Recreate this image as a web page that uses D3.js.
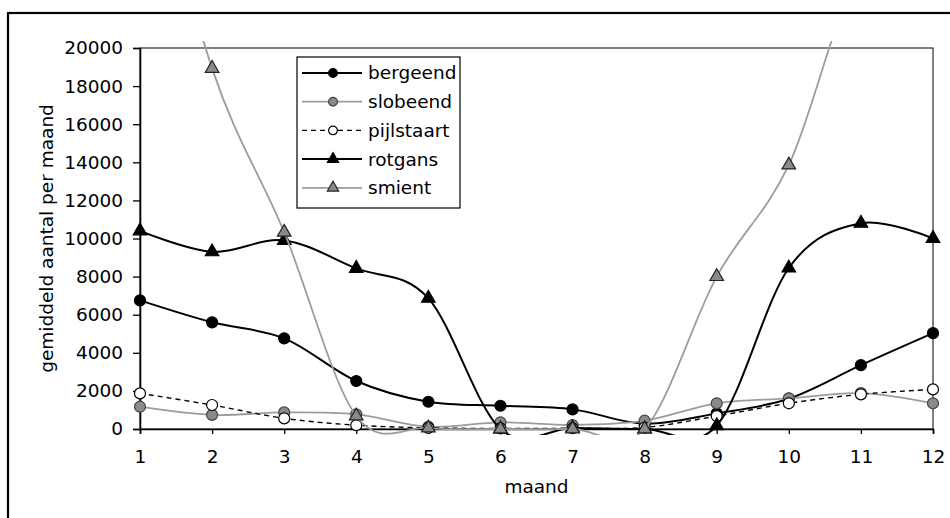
<!DOCTYPE html>
<html>
<head>
<meta charset="utf-8">
<script src="https://cdn.jsdelivr.net/npm/d3@7"></script>
<style>
  body { margin: 0; background: #fff; }
  text { font-family: "DejaVu Sans", sans-serif; fill: #000; }
</style>
</head>
<body>
<svg id="chart"></svg>
<script>
// months on the x axis
var months = [1, 2, 3, 4, 5, 6, 7, 8, 9, 10, 11, 12];
var yTicks = [0, 2000, 4000, 6000, 8000, 10000, 12000, 14000, 16000, 18000, 20000];

// average counts per month
var bergeend   = [6750, 5600, 4760, 2520, 1430, 1220, 1030, 280, 820, 1590, 3350, 5030];
var slobeend   = [1170, 740, 870, 770, 120, 350, 210, 435, 1350, 1610, 1880, 1350];
var pijlstaart = [1870, 1260, 560, 200, 60, 30, 40, 80, 680, 1350, 1820, 2080];
var rotgans    = [10400, 9300, 9900, 8430, 6860, 0, 50, 0, 170, 8450, 10800, 10000];
var smient     = [33000, 18930, 10330, 680, 50, 0, 0, 0, 8000, 13860, 24000, 24000];

var seriesNames = ["bergeend", "slobeend", "pijlstaart", "rotgans", "smient"];

var width = 950, height = 518;
var margin = {top: 48, right: 17, bottom: 89, left: 140};
var w = width - margin.left - margin.right,
    h = height - margin.top - margin.bottom;

var svg = d3.select("#chart")
    .attr("width", width)
    .attr("height", height);

// outer chart border (runs off the right and bottom edges)
svg.append("rect")
    .attr("x", 8).attr("y", 13)
    .attr("width", 960).attr("height", 530)
    .attr("fill", "none")
    .attr("stroke", "#000")
    .attr("stroke-width", 2.2);

var g = svg.append("g")
    .attr("transform", "translate(" + margin.left + "," + margin.top + ")");

var x = d3.scaleLinear().domain([1, 12]).range([0, w]);
var y = d3.scaleLinear().domain([0, 20000]).range([h, 0]);

// plot area frame
g.append("rect")
    .attr("width", w).attr("height", h)
    .attr("fill", "none")
    .attr("stroke", "#000")
    .attr("stroke-width", 1);

g.append("clipPath").attr("id", "clip")
  .append("rect")
    .attr("x", -8).attr("y", -7)
    .attr("width", w + 16).attr("height", h + 13);

// axes
var yAxis = g.append("g")
    .call(d3.axisLeft(y).tickValues(yTicks).tickSize(7).tickPadding(10).tickFormat(d3.format("d")));
var xAxis = g.append("g")
    .attr("transform", "translate(0," + h + ")")
    .call(d3.axisBottom(x).tickValues(months).tickSize(5).tickPadding(16).tickFormat(d3.format("d")));
[xAxis, yAxis].forEach(function(a) {
  a.select(".domain").attr("stroke-width", 1.6);
  a.selectAll(".tick line").attr("stroke-width", 1.3);
  a.selectAll("text").style("font-size", "18.5px");
});

g.append("text")
    .attr("transform", "rotate(-90)")
    .attr("x", -h / 2)
    .attr("y", 47 - margin.left)
    .attr("dy", "0.35em")
    .style("text-anchor", "middle")
    .style("font-size", "18.5px")
    .text("gemiddeld aantal per maand");

g.append("text")
    .attr("x", w / 2)
    .attr("y", h + 64)
    .style("text-anchor", "middle")
    .style("font-size", "18.5px")
    .text("maand");

// series styles
var styles = {
  bergeend:   {data: bergeend,   line: "#000", lw: 2,   dash: null,  sym: d3.symbolCircle,   fill: "#000", stroke: "#000"},
  slobeend:   {data: slobeend,   line: "#9c9c9c", lw: 1.8, dash: null,  sym: d3.symbolCircle,   fill: "#8a8a8a", stroke: "#444"},
  pijlstaart: {data: pijlstaart, line: "#000", lw: 1.4, dash: "5,4", sym: d3.symbolCircle,   fill: "#fff", stroke: "#000"},
  rotgans:    {data: rotgans,    line: "#000", lw: 2,   dash: null,  sym: d3.symbolTriangle, fill: "#000", stroke: "#000"},
  smient:     {data: smient,     line: "#9c9c9c", lw: 1.8, dash: null,  sym: d3.symbolTriangle, fill: "#8a8a8a", stroke: "#222"}
};

var line = d3.line()
    .x(function(d, i) { return x(months[i]); })
    .y(function(d) { return y(d); })
    .curve(d3.curveCardinal.tension(0));

seriesNames.forEach(function(name) {
  var s = styles[name];
  g.append("path")
      .datum(s.data)
      .attr("clip-path", "url(#clip)")
      .attr("fill", "none")
      .attr("stroke", s.line)
      .attr("stroke-width", s.lw)
      .attr("stroke-dasharray", s.dash)
      .attr("d", line);

  // markers only where the value fits on the axis
  var visible = s.data.map(function(v, i) { return [months[i], v]; })
      .filter(function(d) { return d[1] < 20000; });
  g.selectAll(".m-" + name)
      .data(visible)
    .enter().append("path")
      .attr("class", "m-" + name)
      .attr("transform", function(d) { return "translate(" + x(d[0]) + "," + y(d[1]) + ")"; })
      .attr("d", d3.symbol().type(s.sym).size(s.sym === d3.symbolCircle ? 95 : 80))
      .attr("fill", s.fill)
      .attr("stroke", s.stroke)
      .attr("stroke-width", 1.2);
});

// legend
var legend = svg.append("g").attr("transform", "translate(297,57)");
legend.append("rect")
    .attr("width", 163).attr("height", 151)
    .attr("fill", "#fff")
    .attr("stroke", "#000")
    .attr("stroke-width", 1.2);

seriesNames.forEach(function(name, i) {
  var s = styles[name];
  var row = legend.append("g").attr("transform", "translate(0," + (16 + i * 28.7) + ")");
  row.append("line")
      .attr("x1", 5).attr("x2", 65)
      .attr("stroke", s.line)
      .attr("stroke-width", s.lw)
      .attr("stroke-dasharray", s.dash);
  row.append("path")
      .attr("transform", "translate(36,0)")
      .attr("d", d3.symbol().type(s.sym).size(s.sym === d3.symbolCircle ? 60 : 55))
      .attr("fill", s.fill)
      .attr("stroke", s.stroke)
      .attr("stroke-width", 1.2);
  row.append("text")
      .attr("x", 71)
      .attr("dy", "0.35em")
      .style("font-size", "18.5px")
      .text(name);
});
</script>
</body>
</html>
